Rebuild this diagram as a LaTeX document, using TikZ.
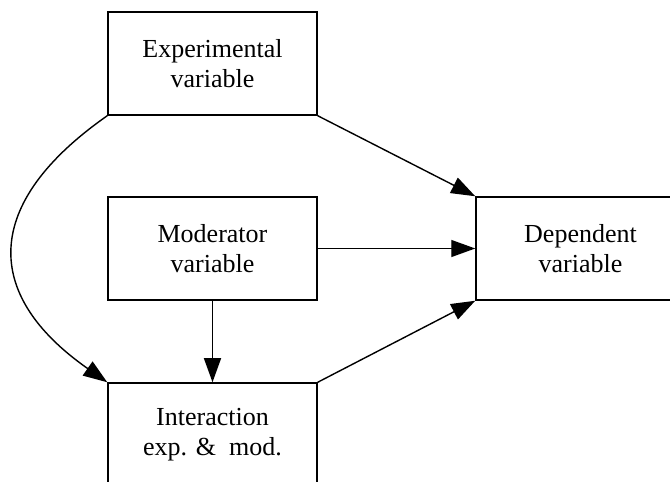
\documentclass[tikz,border=0pt]{standalone}
\usepackage{fontspec}
\setmainfont{Liberation Serif}
\usetikzlibrary{arrows.meta, positioning}

\begin{document}
\begin{tikzpicture}[node distance=185pt, on grid, >={Triangle[length=24pt, width=17pt]},
        every node/.style={font=\fontsize{26}{30}\selectfont, align=center},
        var/.style={draw, line width=1.5pt, minimum width=209pt, minimum height=103pt, inner sep=0pt}]
        \useasboundingbox (0pt,0pt) rectangle (670pt,482pt);
        \node[var] (exp) at (212.5pt,418.5pt) {Experimental\\variable};
        \node[var, below=of exp] (mod) {Moderator\\variable};
        \node[var, below=186pt of mod] (int) {Interaction\\exp. \&\ \ mod.};
        \node[var, right=368pt of mod] (dep) {Dependent\\variable};

        \path[->, line width=1.4pt]
        (exp.south east) edge (dep.north west)
        (exp.south west) edge[out=215, in=145, looseness=1.47] (int.north west)
        (mod) edge (dep)
        edge (int)
        (int.north east) edge (dep.south west);
    \end{tikzpicture}
\end{document}
